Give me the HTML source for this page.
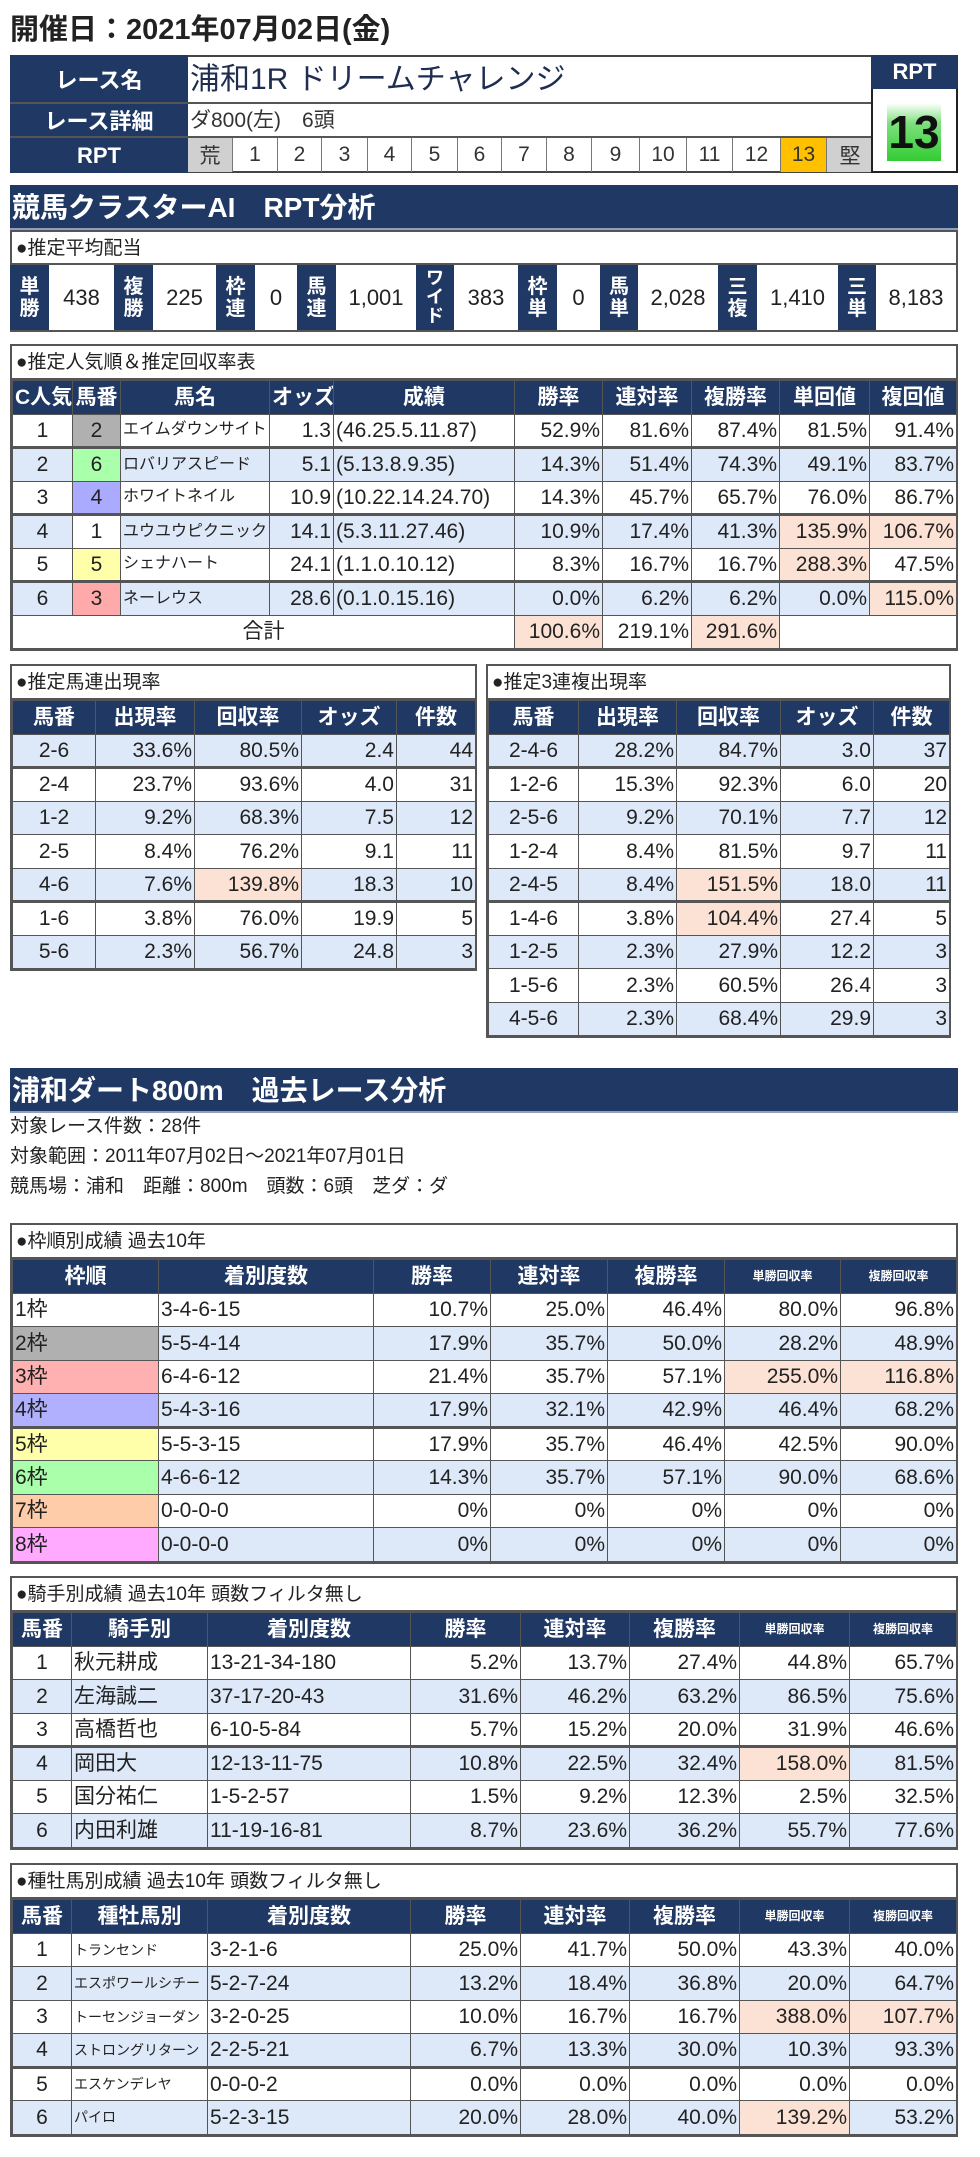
<!DOCTYPE html>
<html><head><meta charset="utf-8">
<style>
*{box-sizing:border-box}
body{margin:0;width:980px;height:2157px;background:#fff;position:relative;font-family:"Liberation Sans","Noto Sans CJK JP",sans-serif;color:#222;overflow:hidden}
.a{position:absolute}
.nv{background:#203864;color:#fff;font-weight:bold}
.c{display:flex;align-items:center;justify-content:center}
.sec{position:absolute;left:10px;width:948px;height:45px;background:#203864;color:#fff;font-weight:bold;font-size:28px;line-height:45px;padding-left:2px;border-bottom:2px solid #8da0c0}
.box{position:absolute;left:10px;width:948px;border:2px solid #555;background:#fff}
.ttl{height:34px;line-height:34px;font-size:19px;padding-left:4px;border-bottom:2px solid #555}
table{border-collapse:collapse;table-layout:fixed;width:100%}
td,th{border:1px solid #555;height:33.5px;padding:0 2px;font-size:21px;line-height:1;white-space:nowrap;overflow:hidden}
th{background:#203864;color:#fff;font-weight:bold;text-align:center;font-size:21px}
th.s{font-size:12px}
td{text-align:right}
td.l{text-align:left}
td.m{text-align:center}
tr.b td{background:#dde8f8}
tr.thick td{border-top:3px solid #555}
.pk{background:#fce2d4!important}
.kn{font-size:16px}
</style></head><body>

<div class="a" style="left:10px;top:14px;font-size:29px;font-weight:bold;line-height:32px">開催日：2021年07月02日(金)</div>

<!-- race table -->
<div class="a" style="left:10px;top:55px;width:948px;height:118px;border:2px solid #444"></div>
<div class="a nv c" style="left:10px;top:55px;width:178px;height:49px;font-size:22px;border-bottom:2px solid #555">レース名</div>
<div class="a nv c" style="left:10px;top:104px;width:178px;height:34px;font-size:22px;border-bottom:2px solid #555">レース詳細</div>
<div class="a nv c" style="left:10px;top:138px;width:178px;height:35px;font-size:22px">RPT</div>
<div class="a" style="left:188px;top:55px;width:683px;height:49px;font-size:30px;line-height:49px;color:#1f2d50;border-bottom:2px solid #555;padding-left:2px">浦和1R ドリームチャレンジ</div>
<div class="a" style="left:188px;top:104px;width:683px;height:34px;font-size:21px;line-height:34px;color:#333;border-bottom:2px solid #555;padding-left:2px">ダ800(左)　6頭</div>
<div class="a" style="left:188px;top:138px;height:34px;display:flex;font-size:21px;color:#333">
<div class="c" style="width:45px;background:#d0d0d0;border-right:1px solid #777">荒</div>
<div class="c" style="width:45px;border-right:1px solid #777">1</div>
<div class="c" style="width:44px;border-right:1px solid #777">2</div>
<div class="c" style="width:46px;border-right:1px solid #777">3</div>
<div class="c" style="width:44px;border-right:1px solid #777">4</div>
<div class="c" style="width:46px;border-right:1px solid #777">5</div>
<div class="c" style="width:44px;border-right:1px solid #777">6</div>
<div class="c" style="width:45px;border-right:1px solid #777">7</div>
<div class="c" style="width:45px;border-right:1px solid #777">8</div>
<div class="c" style="width:48px;border-right:1px solid #777">9</div>
<div class="c" style="width:47px;border-right:1px solid #777">10</div>
<div class="c" style="width:46px;border-right:1px solid #777">11</div>
<div class="c" style="width:48px;border-right:1px solid #777">12</div>
<div class="c" style="width:46px;background:#ffc000;border-right:1px solid #777">13</div>
<div class="c" style="width:46px;background:#d0d0d0">堅</div>
</div>
<div class="a nv c" style="left:871px;top:55px;width:87px;height:34px;font-size:22px">RPT</div>
<div class="a" style="left:871px;top:89px;width:87px;height:84px;background:#fff;border:2px solid #222;border-top:none"></div>
<div class="a c" style="left:887px;top:103px;width:54px;height:58px;background:linear-gradient(#fff,#7de07d 35%,#33cc33);font-size:46px;font-weight:bold;color:#111">13</div>

<div class="sec" style="top:185px">競馬クラスターAI　RPT分析</div>

<!-- payout -->
<div class="box" style="top:230px;height:102px"><div class="ttl" style="height:33px;line-height:33px">●推定平均配当</div></div>
<div class="a nv c" style="left:10px;top:265px;width:39px;height:65px;font-size:20px;line-height:22px;text-align:center">単<br>勝</div>
<div class="a c" style="left:49px;top:265px;width:65px;height:65px;font-size:22px">438</div>
<div class="a nv c" style="left:114px;top:265px;width:39px;height:65px;font-size:20px;line-height:22px;text-align:center">複<br>勝</div>
<div class="a c" style="left:153px;top:265px;width:63px;height:65px;font-size:22px">225</div>
<div class="a nv c" style="left:216px;top:265px;width:39px;height:65px;font-size:20px;line-height:22px;text-align:center">枠<br>連</div>
<div class="a c" style="left:255px;top:265px;width:42px;height:65px;font-size:22px">0</div>
<div class="a nv c" style="left:297px;top:265px;width:39px;height:65px;font-size:20px;line-height:22px;text-align:center">馬<br>連</div>
<div class="a c" style="left:336px;top:265px;width:80px;height:65px;font-size:22px">1,001</div>
<div class="a nv c" style="left:416px;top:265px;width:38px;height:65px;font-size:18px;line-height:19px;text-align:center">ワ<br>イ<br>ド</div>
<div class="a c" style="left:454px;top:265px;width:64px;height:65px;font-size:22px">383</div>
<div class="a nv c" style="left:518px;top:265px;width:39px;height:65px;font-size:20px;line-height:22px;text-align:center">枠<br>単</div>
<div class="a c" style="left:557px;top:265px;width:43px;height:65px;font-size:22px">0</div>
<div class="a nv c" style="left:600px;top:265px;width:38px;height:65px;font-size:20px;line-height:22px;text-align:center">馬<br>単</div>
<div class="a c" style="left:638px;top:265px;width:80px;height:65px;font-size:22px">2,028</div>
<div class="a nv c" style="left:718px;top:265px;width:39px;height:65px;font-size:20px;line-height:22px;text-align:center">三<br>複</div>
<div class="a c" style="left:757px;top:265px;width:81px;height:65px;font-size:22px">1,410</div>
<div class="a nv c" style="left:838px;top:265px;width:38px;height:65px;font-size:20px;line-height:22px;text-align:center">三<br>単</div>
<div class="a c" style="left:876px;top:265px;width:80px;height:65px;font-size:22px">8,183</div>

<!-- popularity -->
<div class="box" style="top:344px">
<div class="ttl">●推定人気順＆推定回収率表</div>
<table>
<colgroup><col style="width:60px"><col style="width:48px"><col style="width:149px"><col style="width:64px"><col style="width:181px"><col style="width:88px"><col style="width:89px"><col style="width:88px"><col style="width:90px"><col style="width:87px"></colgroup>
<tr><th>C人気</th><th>馬番</th><th>馬名</th><th>オッズ</th><th>成績</th><th>勝率</th><th>連対率</th><th>複勝率</th><th>単回値</th><th>複回値</th></tr>
<tr><td class="m">1</td><td class="m" style="background:#b0b0b0">2</td><td class="l kn">エイムダウンサイト</td><td>1.3</td><td class="l">(46.25.5.11.87)</td><td>52.9%</td><td>81.6%</td><td>87.4%</td><td>81.5%</td><td>91.4%</td></tr>
<tr class="b thick"><td class="m">2</td><td class="m" style="background:#aaffaa">6</td><td class="l kn">ロバリアスピード</td><td>5.1</td><td class="l">(5.13.8.9.35)</td><td>14.3%</td><td>51.4%</td><td>74.3%</td><td>49.1%</td><td>83.7%</td></tr>
<tr><td class="m">3</td><td class="m" style="background:#aaaaff">4</td><td class="l kn">ホワイトネイル</td><td>10.9</td><td class="l">(10.22.14.24.70)</td><td>14.3%</td><td>45.7%</td><td>65.7%</td><td>76.0%</td><td>86.7%</td></tr>
<tr class="b thick"><td class="m">4</td><td class="m" style="background:#fff">1</td><td class="l kn">ユウユウピクニック</td><td>14.1</td><td class="l">(5.3.11.27.46)</td><td>10.9%</td><td>17.4%</td><td>41.3%</td><td class="pk">135.9%</td><td class="pk">106.7%</td></tr>
<tr><td class="m">5</td><td class="m" style="background:#ffffaa">5</td><td class="l kn">シェナハート</td><td>24.1</td><td class="l">(1.1.0.10.12)</td><td>8.3%</td><td>16.7%</td><td>16.7%</td><td class="pk">288.3%</td><td>47.5%</td></tr>
<tr class="b thick"><td class="m">6</td><td class="m" style="background:#ffaaaa">3</td><td class="l kn">ネーレウス</td><td>28.6</td><td class="l">(0.1.0.15.16)</td><td>0.0%</td><td>6.2%</td><td>6.2%</td><td>0.0%</td><td class="pk">115.0%</td></tr>
<tr><td colspan="5" class="m">合計</td><td class="pk">100.6%</td><td>219.1%</td><td class="pk">291.6%</td><td colspan="2"></td></tr>
</table></div>

<!-- umaren -->
<div class="box" style="top:664px;width:467px">
<div class="ttl">●推定馬連出現率</div>
<table>
<colgroup><col style="width:83px"><col style="width:99px"><col style="width:107px"><col style="width:95px"><col style="width:79px"></colgroup>
<tr><th>馬番</th><th>出現率</th><th>回収率</th><th>オッズ</th><th>件数</th></tr>
<tr class="b"><td class="m">2-6</td><td>33.6%</td><td>80.5%</td><td>2.4</td><td>44</td></tr>
<tr class="thick"><td class="m">2-4</td><td>23.7%</td><td>93.6%</td><td>4.0</td><td>31</td></tr>
<tr class="b"><td class="m">1-2</td><td>9.2%</td><td>68.3%</td><td>7.5</td><td>12</td></tr>
<tr><td class="m">2-5</td><td>8.4%</td><td>76.2%</td><td>9.1</td><td>11</td></tr>
<tr class="b"><td class="m">4-6</td><td>7.6%</td><td class="pk">139.8%</td><td>18.3</td><td>10</td></tr>
<tr class="thick"><td class="m">1-6</td><td>3.8%</td><td>76.0%</td><td>19.9</td><td>5</td></tr>
<tr class="b"><td class="m">5-6</td><td>2.3%</td><td>56.7%</td><td>24.8</td><td>3</td></tr>
</table></div>

<!-- sanrenpuku -->
<div class="box" style="top:664px;left:486px;width:465px">
<div class="ttl">●推定3連複出現率</div>
<table>
<colgroup><col style="width:90px"><col style="width:98px"><col style="width:104px"><col style="width:93px"><col style="width:76px"></colgroup>
<tr><th>馬番</th><th>出現率</th><th>回収率</th><th>オッズ</th><th>件数</th></tr>
<tr class="b"><td class="m">2-4-6</td><td>28.2%</td><td>84.7%</td><td>3.0</td><td>37</td></tr>
<tr class="thick"><td class="m">1-2-6</td><td>15.3%</td><td>92.3%</td><td>6.0</td><td>20</td></tr>
<tr class="b"><td class="m">2-5-6</td><td>9.2%</td><td>70.1%</td><td>7.7</td><td>12</td></tr>
<tr><td class="m">1-2-4</td><td>8.4%</td><td>81.5%</td><td>9.7</td><td>11</td></tr>
<tr class="b"><td class="m">2-4-5</td><td>8.4%</td><td class="pk">151.5%</td><td>18.0</td><td>11</td></tr>
<tr class="thick"><td class="m">1-4-6</td><td>3.8%</td><td class="pk">104.4%</td><td>27.4</td><td>5</td></tr>
<tr class="b"><td class="m">1-2-5</td><td>2.3%</td><td>27.9%</td><td>12.2</td><td>3</td></tr>
<tr><td class="m">1-5-6</td><td>2.3%</td><td>60.5%</td><td>26.4</td><td>3</td></tr>
<tr class="b"><td class="m">4-5-6</td><td>2.3%</td><td>68.4%</td><td>29.9</td><td>3</td></tr>
</table></div>

<div class="sec" style="top:1068px">浦和ダート800m　過去レース分析</div>
<div class="a" style="left:10px;top:1115px;font-size:19px;line-height:24px">対象レース件数：28件</div>
<div class="a" style="left:10px;top:1145px;font-size:19px;line-height:24px">対象範囲：2011年07月02日～2021年07月01日</div>
<div class="a" style="left:10px;top:1175px;font-size:19px;line-height:24px">競馬場：浦和　距離：800m　頭数：6頭　芝ダ：ダ</div>

<!-- gate -->
<div class="box" style="top:1223px">
<div class="ttl">●枠順別成績 過去10年</div>
<table>
<colgroup><col style="width:146px"><col style="width:215px"><col style="width:117px"><col style="width:117px"><col style="width:117px"><col style="width:116px"><col style="width:116px"></colgroup>
<tr><th>枠順</th><th>着別度数</th><th>勝率</th><th>連対率</th><th>複勝率</th><th class="s">単勝回収率</th><th class="s">複勝回収率</th></tr>
<tr><td class="l">1枠</td><td class="l">3-4-6-15</td><td>10.7%</td><td>25.0%</td><td>46.4%</td><td>80.0%</td><td>96.8%</td></tr>
<tr class="b"><td class="l" style="background:#b0b0b0">2枠</td><td class="l">5-5-4-14</td><td>17.9%</td><td>35.7%</td><td>50.0%</td><td>28.2%</td><td>48.9%</td></tr>
<tr><td class="l" style="background:#ffb0b0">3枠</td><td class="l">6-4-6-12</td><td>21.4%</td><td>35.7%</td><td>57.1%</td><td class="pk">255.0%</td><td class="pk">116.8%</td></tr>
<tr class="b"><td class="l" style="background:#b0b0ff">4枠</td><td class="l">5-4-3-16</td><td>17.9%</td><td>32.1%</td><td>42.9%</td><td>46.4%</td><td>68.2%</td></tr>
<tr class="thick"><td class="l" style="background:#ffffaa">5枠</td><td class="l">5-5-3-15</td><td>17.9%</td><td>35.7%</td><td>46.4%</td><td>42.5%</td><td>90.0%</td></tr>
<tr class="b"><td class="l" style="background:#aaffaa">6枠</td><td class="l">4-6-6-12</td><td>14.3%</td><td>35.7%</td><td>57.1%</td><td>90.0%</td><td>68.6%</td></tr>
<tr><td class="l" style="background:#ffccaa">7枠</td><td class="l">0-0-0-0</td><td>0%</td><td>0%</td><td>0%</td><td>0%</td><td>0%</td></tr>
<tr class="b"><td class="l" style="background:#ffaaff">8枠</td><td class="l">0-0-0-0</td><td>0%</td><td>0%</td><td>0%</td><td>0%</td><td>0%</td></tr>
</table></div>

<!-- jockey -->
<div class="box" style="top:1576px">
<div class="ttl">●騎手別成績 過去10年 頭数フィルタ無し</div>
<table>
<colgroup><col style="width:59px"><col style="width:136px"><col style="width:203px"><col style="width:110px"><col style="width:109px"><col style="width:110px"><col style="width:110px"><col style="width:107px"></colgroup>
<tr><th>馬番</th><th>騎手別</th><th>着別度数</th><th>勝率</th><th>連対率</th><th>複勝率</th><th class="s">単勝回収率</th><th class="s">複勝回収率</th></tr>
<tr><td class="m">1</td><td class="l">秋元耕成</td><td class="l">13-21-34-180</td><td>5.2%</td><td>13.7%</td><td>27.4%</td><td>44.8%</td><td>65.7%</td></tr>
<tr class="b"><td class="m">2</td><td class="l">左海誠二</td><td class="l">37-17-20-43</td><td>31.6%</td><td>46.2%</td><td>63.2%</td><td>86.5%</td><td>75.6%</td></tr>
<tr><td class="m">3</td><td class="l">高橋哲也</td><td class="l">6-10-5-84</td><td>5.7%</td><td>15.2%</td><td>20.0%</td><td>31.9%</td><td>46.6%</td></tr>
<tr class="b thick"><td class="m">4</td><td class="l">岡田大</td><td class="l">12-13-11-75</td><td>10.8%</td><td>22.5%</td><td>32.4%</td><td class="pk">158.0%</td><td>81.5%</td></tr>
<tr><td class="m">5</td><td class="l">国分祐仁</td><td class="l">1-5-2-57</td><td>1.5%</td><td>9.2%</td><td>12.3%</td><td>2.5%</td><td>32.5%</td></tr>
<tr class="b"><td class="m">6</td><td class="l">内田利雄</td><td class="l">11-19-16-81</td><td>8.7%</td><td>23.6%</td><td>36.2%</td><td>55.7%</td><td>77.6%</td></tr>
</table></div>

<!-- sire -->
<div class="box" style="top:1863px">
<div class="ttl">●種牡馬別成績 過去10年 頭数フィルタ無し</div>
<table>
<colgroup><col style="width:59px"><col style="width:136px"><col style="width:203px"><col style="width:110px"><col style="width:109px"><col style="width:110px"><col style="width:110px"><col style="width:107px"></colgroup>
<tr><th>馬番</th><th>種牡馬別</th><th>着別度数</th><th>勝率</th><th>連対率</th><th>複勝率</th><th class="s">単勝回収率</th><th class="s">複勝回収率</th></tr>
<tr><td class="m">1</td><td class="l" style="font-size:14px">トランセンド</td><td class="l">3-2-1-6</td><td>25.0%</td><td>41.7%</td><td>50.0%</td><td>43.3%</td><td>40.0%</td></tr>
<tr class="b"><td class="m">2</td><td class="l" style="font-size:14px">エスポワールシチー</td><td class="l">5-2-7-24</td><td>13.2%</td><td>18.4%</td><td>36.8%</td><td>20.0%</td><td>64.7%</td></tr>
<tr><td class="m">3</td><td class="l" style="font-size:14px">トーセンジョーダン</td><td class="l">3-2-0-25</td><td>10.0%</td><td>16.7%</td><td>16.7%</td><td class="pk">388.0%</td><td class="pk">107.7%</td></tr>
<tr class="b"><td class="m">4</td><td class="l" style="font-size:14px">ストロングリターン</td><td class="l">2-2-5-21</td><td>6.7%</td><td>13.3%</td><td>30.0%</td><td>10.3%</td><td>93.3%</td></tr>
<tr class="thick"><td class="m">5</td><td class="l" style="font-size:14px">エスケンデレヤ</td><td class="l">0-0-0-2</td><td>0.0%</td><td>0.0%</td><td>0.0%</td><td>0.0%</td><td>0.0%</td></tr>
<tr class="b"><td class="m">6</td><td class="l" style="font-size:14px">パイロ</td><td class="l">5-2-3-15</td><td>20.0%</td><td>28.0%</td><td>40.0%</td><td class="pk">139.2%</td><td>53.2%</td></tr>
</table></div>

</body></html>
